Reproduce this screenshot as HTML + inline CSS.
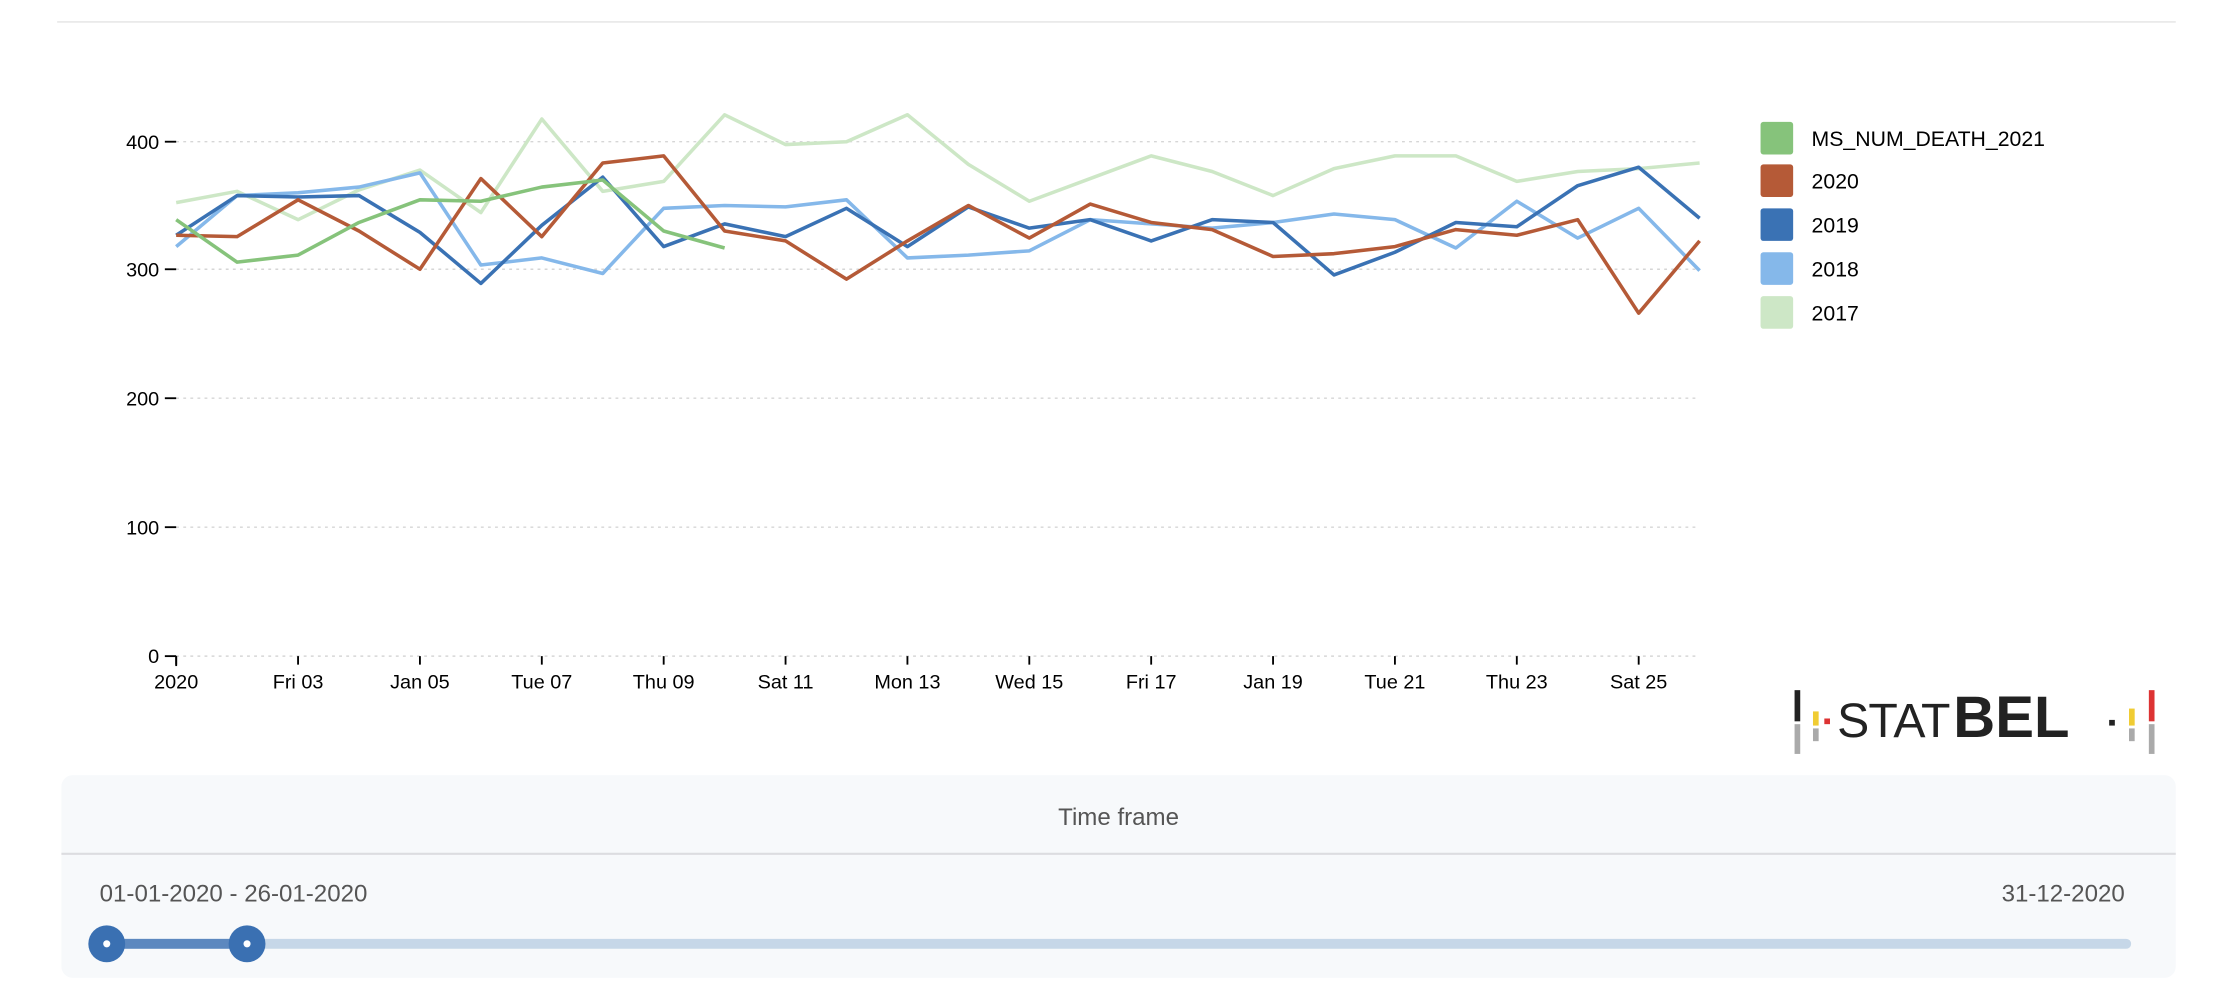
<!DOCTYPE html>
<html><head><meta charset="utf-8"><style>
html,body{margin:0;padding:0;background:#fff;width:2223px;height:992px;overflow:hidden}
svg{display:block}
text{font-family:"Liberation Sans",sans-serif}
</style></head><body>
<svg id="s" width="2223" height="992" viewBox="0 0 1568 700" xmlns="http://www.w3.org/2000/svg">
<line x1="40" y1="15.5" x2="1535" y2="15.5" stroke="#e3e3e3" stroke-width="1"/>
<g stroke="#d6d6d6" stroke-dasharray="2,3" stroke-width="1">
<line x1="124" y1="100" x2="1199" y2="100"/>
<line x1="124" y1="190" x2="1199" y2="190"/>
<line x1="124" y1="281" x2="1199" y2="281"/>
<line x1="124" y1="372" x2="1199" y2="372"/>
<line x1="124" y1="463" x2="1199" y2="463"/>
</g>
<g stroke="#000" stroke-width="1.3">
<line x1="116" y1="100" x2="124" y2="100"/><line x1="116" y1="190" x2="124" y2="190"/>
<line x1="116" y1="281" x2="124" y2="281"/><line x1="116" y1="372" x2="124" y2="372"/>
<line x1="116" y1="463" x2="124" y2="463"/>
<line x1="124" y1="463" x2="124" y2="470"/>
</g>
<g font-size="14" fill="#000" text-anchor="end">
<text x="112" y="105">400</text><text x="112" y="195">300</text><text x="112" y="286">200</text><text x="112" y="377">100</text><text x="112" y="468">0</text>
</g>
<g id="xt" font-size="14" fill="#000" text-anchor="middle"></g>
<g id="lines" fill="none" stroke-width="2.5" stroke-linejoin="round"></g>
<g font-size="15" fill="#000">
<rect x="1242" y="86" width="23" height="23" rx="2" fill="#86c37b"/><text x="1278" y="103">MS_NUM_DEATH_2021</text>
<rect x="1242" y="116" width="23" height="23" rx="2" fill="#b55a37"/><text x="1278" y="133">2020</text>
<rect x="1242" y="147" width="23" height="23" rx="2" fill="#3a72b4"/><text x="1278" y="164">2019</text>
<rect x="1242" y="178" width="23" height="23" rx="2" fill="#85b8ea"/><text x="1278" y="195">2018</text>
<rect x="1242" y="209" width="23" height="23" rx="2" fill="#cde7c6"/><text x="1278" y="226">2017</text>
</g>
<!-- logo -->
<rect x="1266" y="487" width="4" height="22" fill="#222"/><rect x="1266" y="511" width="4" height="21" fill="#aaa"/>
<rect x="1279" y="502" width="4" height="10" fill="#f0cc33"/><rect x="1279" y="514" width="4" height="9" fill="#aaa"/>
<rect x="1287" y="507" width="4" height="4" fill="#d33"/>
<text x="1296" y="520" font-size="34" fill="#222" textLength="80" lengthAdjust="spacing">STAT</text>
<text x="1378" y="520" font-size="41" fill="#222" font-weight="bold">BEL</text>
<rect x="1488" y="508" width="4" height="4" fill="#222"/>
<rect x="1502" y="500" width="4" height="12" fill="#f0cc33"/><rect x="1502" y="514" width="4" height="9" fill="#aaa"/>
<rect x="1516" y="487" width="4" height="22" fill="#d33"/><rect x="1516" y="511" width="4" height="21" fill="#aaa"/>
<!-- panel -->
<rect x="43" y="547" width="1492" height="143" rx="8" fill="#f7f9fb"/>
<line x1="43" y1="602.5" x2="1535" y2="602.5" stroke="#dcdde0" stroke-width="1.5"/>
<text x="789" y="582" font-size="17" fill="#555" text-anchor="middle">Time frame</text>
<text x="70" y="636" font-size="17" fill="#555">01-01-2020 - 26-01-2020</text>
<text x="1499" y="636" font-size="17" fill="#555" text-anchor="end">31-12-2020</text>
<line x1="75" y1="666" x2="1500" y2="666" stroke="#c6d7e8" stroke-width="7" stroke-linecap="round"/>
<line x1="75" y1="666" x2="174" y2="666" stroke="#5c88bf" stroke-width="7"/>
<circle cx="75" cy="666" r="13" fill="#3a70b2"/><circle cx="75" cy="666" r="2.5" fill="#fff"/>
<circle cx="174" cy="666" r="13" fill="#3a70b2"/><circle cx="174" cy="666" r="2.5" fill="#fff"/>
</svg>
<script>
var ns="http://www.w3.org/2000/svg";
var labels=["2020","Fri 03","Jan 05","Tue 07","Thu 09","Sat 11","Mon 13","Wed 15","Fri 17","Jan 19","Tue 21","Thu 23","Sat 25"];
var xt=document.getElementById("xt");
labels.forEach(function(l,i){var x=124+86*i;
 var ln=document.createElementNS(ns,"line");ln.setAttribute("x1",x);ln.setAttribute("x2",x);ln.setAttribute("y1",463);ln.setAttribute("y2",469);ln.setAttribute("stroke","#000");ln.setAttribute("stroke-width","1.3");xt.appendChild(ln);
 var t=document.createElementNS(ns,"text");t.setAttribute("x",x);t.setAttribute("y",486);t.textContent=l;xt.appendChild(t);});
var series=[
["#cde7c6",[143,135,155,134,120,150,84,135,128,81,102,100,81,116,142,126,110,121,138,119,110,110,128,121,119,115]],
["#85b8ea",[174,138,136,132,122,187,182,193,147,145,146,141,182,180,177,155,158,161,157,151,155,175,142,168,147,191]],
["#3a72b4",[166,138,139,138,164,200,159,125,174,158,167,147,174,146,161,155,170,155,157,194,178,157,160,131,118,154]],
["#b55a37",[166,167,141,163,190,126,167,115,110,163,170,197,170,145,168,144,157,162,181,179,174,162,166,155,221,170]],
["#86c37b",[155,185,180,157,141,142,132,127,163,175]]];
var g=document.getElementById("lines");
series.forEach(function(s){var p=s[1].map(function(y,i){return (124+43*i)+","+y}).join(" ");
 var pl=document.createElementNS(ns,"polyline");pl.setAttribute("points",p);pl.setAttribute("stroke",s[0]);g.appendChild(pl);});
</script>
</body></html>
